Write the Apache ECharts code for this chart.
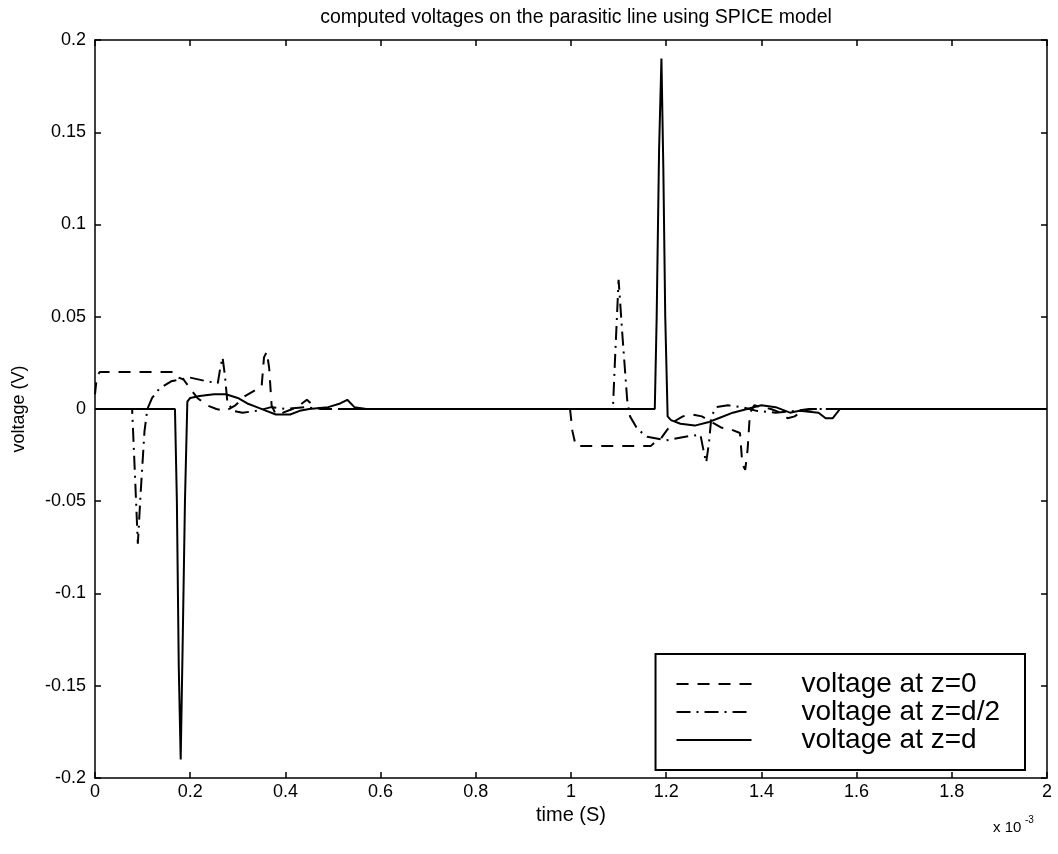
<!DOCTYPE html>
<html>
<head>
<meta charset="utf-8">
<script src="https://cdn.jsdelivr.net/npm/echarts@6/dist/echarts.min.js"></script>
<style>
  html, body { margin: 0; padding: 0; background: #fff; }
  #main { width: 1058px; height: 854px; }
</style>
</head>
<body>
<div id="main"></div>
<script>
// time in units of 1e-3 s, voltage in V
var voltZ0 = [
  [0, 0.008], [0.004, 0.018], [0.01, 0.02], [0.06, 0.02], [0.12, 0.02], [0.168, 0.02],
  [0.176, 0.017], [0.186, 0.016], [0.2, 0.011], [0.215, 0.006], [0.235, 0.002], [0.255, 0],
  [0.275, -0.001], [0.295, 0.002], [0.315, 0.007], [0.335, 0.01], [0.35, 0.012], [0.355, 0.028],
  [0.361, 0.031], [0.366, 0.022], [0.371, 0.002], [0.38, -0.003], [0.395, -0.002], [0.415, 0],
  [0.43, 0.002], [0.445, 0.005], [0.458, 0.002], [0.475, 0], [0.6, 0], [0.998, 0],
  [1.003, -0.012], [1.01, -0.02], [1.06, -0.02], [1.12, -0.02], [1.168, -0.02], [1.176, -0.018],
  [1.186, -0.017], [1.2, -0.012], [1.215, -0.007], [1.235, -0.004], [1.255, -0.003], [1.275, -0.004],
  [1.295, -0.007], [1.315, -0.01], [1.335, -0.011], [1.355, -0.013], [1.36, -0.03], [1.366, -0.033],
  [1.371, -0.022], [1.376, -0.002], [1.385, 0.002], [1.4, 0.001], [1.42, 0], [1.44, -0.002],
  [1.455, -0.005], [1.47, -0.004], [1.485, -0.001], [1.51, 0], [2, 0]
];
var voltZhalf = [
  [0, 0], [0.078, 0], [0.083, -0.03], [0.09, -0.073], [0.096, -0.045], [0.104, -0.012],
  [0.11, 0], [0.12, 0.006], [0.135, 0.011], [0.16, 0.015], [0.2, 0.017], [0.235, 0.015],
  [0.258, 0.014], [0.263, 0.022], [0.268, 0.028], [0.273, 0.018], [0.278, 0.004], [0.29, -0.001],
  [0.31, -0.002], [0.34, -0.001], [0.37, 0.001], [0.4, 0], [0.44, 0.001], [0.48, 0],
  [1.088, 0], [1.093, 0.03], [1.1, 0.07], [1.108, 0.04], [1.118, 0.005], [1.124, -0.004],
  [1.14, -0.011], [1.16, -0.015], [1.2, -0.017], [1.24, -0.015], [1.272, -0.014], [1.278, -0.022],
  [1.284, -0.029], [1.29, -0.018], [1.295, -0.004], [1.305, 0.001], [1.33, 0.002], [1.36, 0.001],
  [1.39, -0.001], [1.43, -0.002], [1.47, -0.001], [1.5, 0], [2, 0]
];
var voltZd = [
  [0, 0], [0.168, 0], [0.172, -0.05], [0.176, -0.14], [0.18, -0.19], [0.184, -0.13],
  [0.189, -0.05], [0.194, 0.004], [0.2, 0.006], [0.22, 0.007], [0.25, 0.008], [0.275, 0.008],
  [0.3, 0.006], [0.32, 0.003], [0.34, 0.001], [0.36, -0.001], [0.38, -0.003], [0.41, -0.003],
  [0.43, -0.001], [0.45, 0], [0.49, 0.001], [0.515, 0.003], [0.53, 0.005], [0.545, 0.001],
  [0.57, 0], [1.176, 0], [1.18, 0.05], [1.185, 0.14], [1.19, 0.19], [1.194, 0.13],
  [1.198, 0.05], [1.203, -0.004], [1.21, -0.006], [1.23, -0.008], [1.26, -0.009], [1.29, -0.007],
  [1.31, -0.005], [1.34, -0.002], [1.37, 0], [1.4, 0.002], [1.43, 0.001], [1.46, -0.002],
  [1.48, -0.001], [1.52, -0.002], [1.535, -0.005], [1.55, -0.005], [1.565, 0], [1.6, 0], [2, 0]
];
var seriesNames = ["voltage at z=0", "voltage at z=d/2", "voltage at z=d"];

var font = "Liberation Sans, Arial, sans-serif";
var myChart = echarts.init(document.getElementById("main"));

var boxAxisLine = { show: true, onZero: false, lineStyle: { color: "#000", width: 1.5 } };
var boxTick = { show: true, inside: true, length: 6, lineStyle: { color: "#000", width: 1.5 } };

var option = {
  backgroundColor: "#fff",
  animation: false,
  color: ["#000", "#000", "#000"],
  title: {
    text: "computed voltages on the parasitic line using SPICE model",
    left: 571,
    textAlign: "center",
    top: 3,
    textStyle: { fontFamily: font, fontSize: 19.5, fontWeight: "normal", color: "#000" }
  },
  grid: { left: 95, right: 11, top: 40, bottom: 76 },
  legend: {
    orient: "vertical",
    right: 33,
    bottom: 84,
    itemWidth: 75,
    itemHeight: 14,
    itemGap: 0,
    padding: [16, 25, 16, 20],
    borderColor: "#000",
    borderWidth: 2,
    backgroundColor: "#fff",
    itemStyle: { opacity: 0 },
    textStyle: { fontFamily: font, fontSize: 28, lineHeight: 27, color: "#000", padding: [0, 0, 0, 45] },
    data: seriesNames
  },
  xAxis: [
    {
      type: "value", min: 0, max: 2, interval: 0.2,
      name: "time (S)", nameLocation: "middle", nameGap: 27,
      nameTextStyle: { fontFamily: font, fontSize: 20, color: "#000" },
      axisLine: boxAxisLine, axisTick: boxTick,
      axisLabel: { fontFamily: font, fontSize: 18, color: "#000", margin: 5 },
      splitLine: { show: false }
    },
    {
      type: "value", min: 0, max: 2, interval: 0.2, position: "top",
      axisLine: boxAxisLine, axisTick: boxTick,
      axisLabel: { show: false }, splitLine: { show: false }
    }
  ],
  yAxis: [
    {
      type: "value", min: -0.2, max: 0.2, interval: 0.05,
      name: "voltage (V)", nameLocation: "middle", nameGap: 67,
      nameTextStyle: { fontFamily: font, fontSize: 18, color: "#000" },
      axisLine: boxAxisLine, axisTick: boxTick,
      axisLabel: { fontFamily: font, fontSize: 18, color: "#000", margin: 9 },
      splitLine: { show: false }
    },
    {
      type: "value", min: -0.2, max: 0.2, interval: 0.05, position: "right",
      axisLine: boxAxisLine, axisTick: boxTick,
      axisLabel: { show: false }, splitLine: { show: false }
    }
  ],
  graphic: [
    {
      type: "text", left: 993, top: 820,
      style: { text: "x 10", font: "15px " + font, fill: "#000" }
    },
    {
      type: "text", left: 1025, top: 815,
      style: { text: "-3", font: "10px " + font, fill: "#000" }
    }
  ],
  series: [
    {
      name: seriesNames[0], type: "line", symbol: "none", data: voltZ0,
      lineStyle: { color: "#000", width: 2, type: [12, 9] }
    },
    {
      name: seriesNames[1], type: "line", symbol: "none", data: voltZhalf,
      lineStyle: { color: "#000", width: 2, type: [14, 6, 2, 6] }
    },
    {
      name: seriesNames[2], type: "line", symbol: "none", data: voltZd,
      lineStyle: { color: "#000", width: 2, type: "solid" }
    }
  ]
};
myChart.setOption(option);
</script>
</body>
</html>
